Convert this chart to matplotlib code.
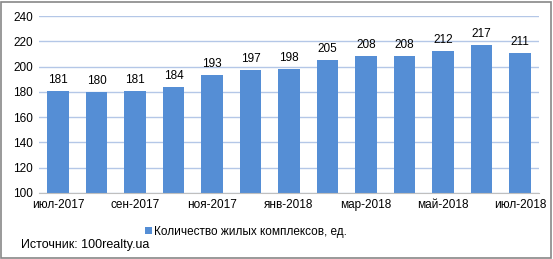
import matplotlib.pyplot as plt
from matplotlib.patches import Rectangle

months = ["июл-2017", "авг-2017", "сен-2017", "окт-2017", "ноя-2017", "дек-2017",
          "янв-2018", "фев-2018", "мар-2018", "апр-2018", "май-2018", "июн-2018", "июл-2018"]
values = [181, 180, 181, 184, 193, 197, 198, 205, 208, 208, 212, 217, 211]
yticks = [100, 120, 140, 160, 180, 200, 220, 240]

BAR_COLOR = "#558ED5"
GRID_COLOR = "#B4C7E7"

plt.rcParams['font.family'] = ['Liberation Sans', 'DejaVu Sans']

fig = plt.figure(figsize=(5.53, 2.59), dpi=100)
ax = fig.add_axes([0.070, 0.255, 0.905, 0.683])

x = list(range(len(values)))
bars = ax.bar(x, values, width=0.55, color=BAR_COLOR, zorder=2,
              label="Количество жилых комплексов, ед.")
for xi, v in zip(x, values):
    ax.text(xi, v + 4, str(v), ha='center', va='bottom', fontsize=8.5)

ax.set_ylim(100, 240)
ax.set_xlim(-0.5, len(values) - 0.5)
ax.set_yticks(yticks)
ax.set_xticks(x[::2])
ax.set_xticklabels(months[::2])
ax.tick_params(axis='both', length=0, labelsize=8.5, pad=4)
ax.grid(axis='y', color=GRID_COLOR, linewidth=1, zorder=0)
for s in ['top', 'right', 'left']:
    ax.spines[s].set_visible(False)
ax.spines['bottom'].set_color("#BFBFBF")
ax.spines['bottom'].set_zorder(3)

leg = fig.legend(handles=[bars], loc='center', bbox_to_anchor=(0.445, 0.105), frameon=False,
                 fontsize=8.5, handlelength=0.6, handleheight=0.6, handletextpad=0.2)

fig.text(0.038, 0.055, "Источник: 100realty.ua", fontsize=9, ha='left', va='center')

fig.patches.append(Rectangle((0.002, 0.004), 0.995, 0.99, transform=fig.transFigure,
                             fill=False, edgecolor="#878787", linewidth=1.2))

fig.savefig("out.png", dpi=100)
